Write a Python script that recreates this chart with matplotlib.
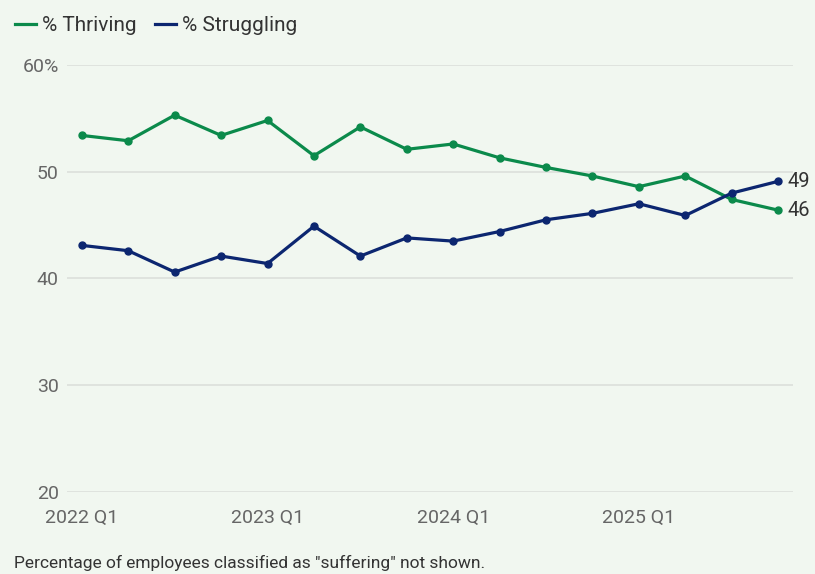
import matplotlib.pyplot as plt

# quarterly engagement index, 2022 Q1 .. 2025 Q4
quarters = ['2022 Q1', '2022 Q2', '2022 Q3', '2022 Q4',
            '2023 Q1', '2023 Q2', '2023 Q3', '2023 Q4',
            '2024 Q1', '2024 Q2', '2024 Q3', '2024 Q4',
            '2025 Q1', '2025 Q2', '2025 Q3', '2025 Q4']
thriving = [53.4, 52.9, 55.3, 53.4, 54.8, 51.5, 54.2, 52.1,
            52.6, 51.3, 50.4, 49.6, 48.6, 49.6, 47.4, 46.4]
struggling = [43.1, 42.6, 40.6, 42.1, 41.4, 44.9, 42.1, 43.8,
              43.5, 44.4, 45.5, 46.1, 47.0, 45.9, 48.0, 49.1]
y_ticks = [20, 30, 40, 50, 60]
y_labels = ['20', '30', '40', '50', '60%']

BG = '#f1f7f0'
GREEN = '#0b8a4b'
NAVY = '#0c2670'

plt.rcParams['font.family'] = ['Roboto', 'DejaVu Sans']

fig = plt.figure(figsize=(8.15, 5.74), dpi=100, facecolor=BG)
ax = fig.add_axes([0.0822, 0.1429, 0.8908, 0.7439], facecolor=BG)

x = list(range(len(quarters)))
l1, = ax.plot(x, thriving, color=GREEN, lw=2.3, marker='o', ms=5,
              label='% Thriving', clip_on=False, zorder=3)
l2, = ax.plot(x, struggling, color=NAVY, lw=2.3, marker='o', ms=5,
              label='% Struggling', clip_on=False, zorder=3)

# end-of-series values
ax.text(x[-1] + 0.2, struggling[-1], f'{struggling[-1]:.0f}', va='center',
        ha='left', fontsize=14.5, color='#333333', clip_on=False)
ax.text(x[-1] + 0.2, thriving[-1], f'{thriving[-1]:.0f}', va='center',
        ha='left', fontsize=14.5, color='#333333', clip_on=False)

ax.set_xlim(-0.32, 15.32)
ax.set_ylim(20, 60)
ax.set_yticks(y_ticks)
ax.set_yticklabels(y_labels)
ax.set_xticks(x[::4])
ax.set_xticklabels(quarters[::4])
ax.grid(axis='y', color='#dcdfdb', lw=1.2)
ax.set_axisbelow(True)
for s in ax.spines.values():
    s.set_visible(False)
ax.tick_params(axis='both', length=0, labelsize=14, colors='#666666')
ax.tick_params(axis='y', pad=6)
ax.tick_params(axis='x', pad=12)

fig.legend(handles=[l1, l2], loc='upper left', bbox_to_anchor=(-0.005, 1.005),
           ncol=2, frameon=False, fontsize=15, handlelength=1.0,
           handletextpad=0.3, columnspacing=0.9,
           labelcolor='#333333')
for h in fig.legends[0].legend_handles:
    h.set_marker('')

fig.text(0.017, 0.005, 'Percentage of employees classified as "suffering" not shown.',
         fontsize=12.5, color='#333333', ha='left', va='bottom')

fig.savefig('out.png', dpi=100, facecolor=BG)
